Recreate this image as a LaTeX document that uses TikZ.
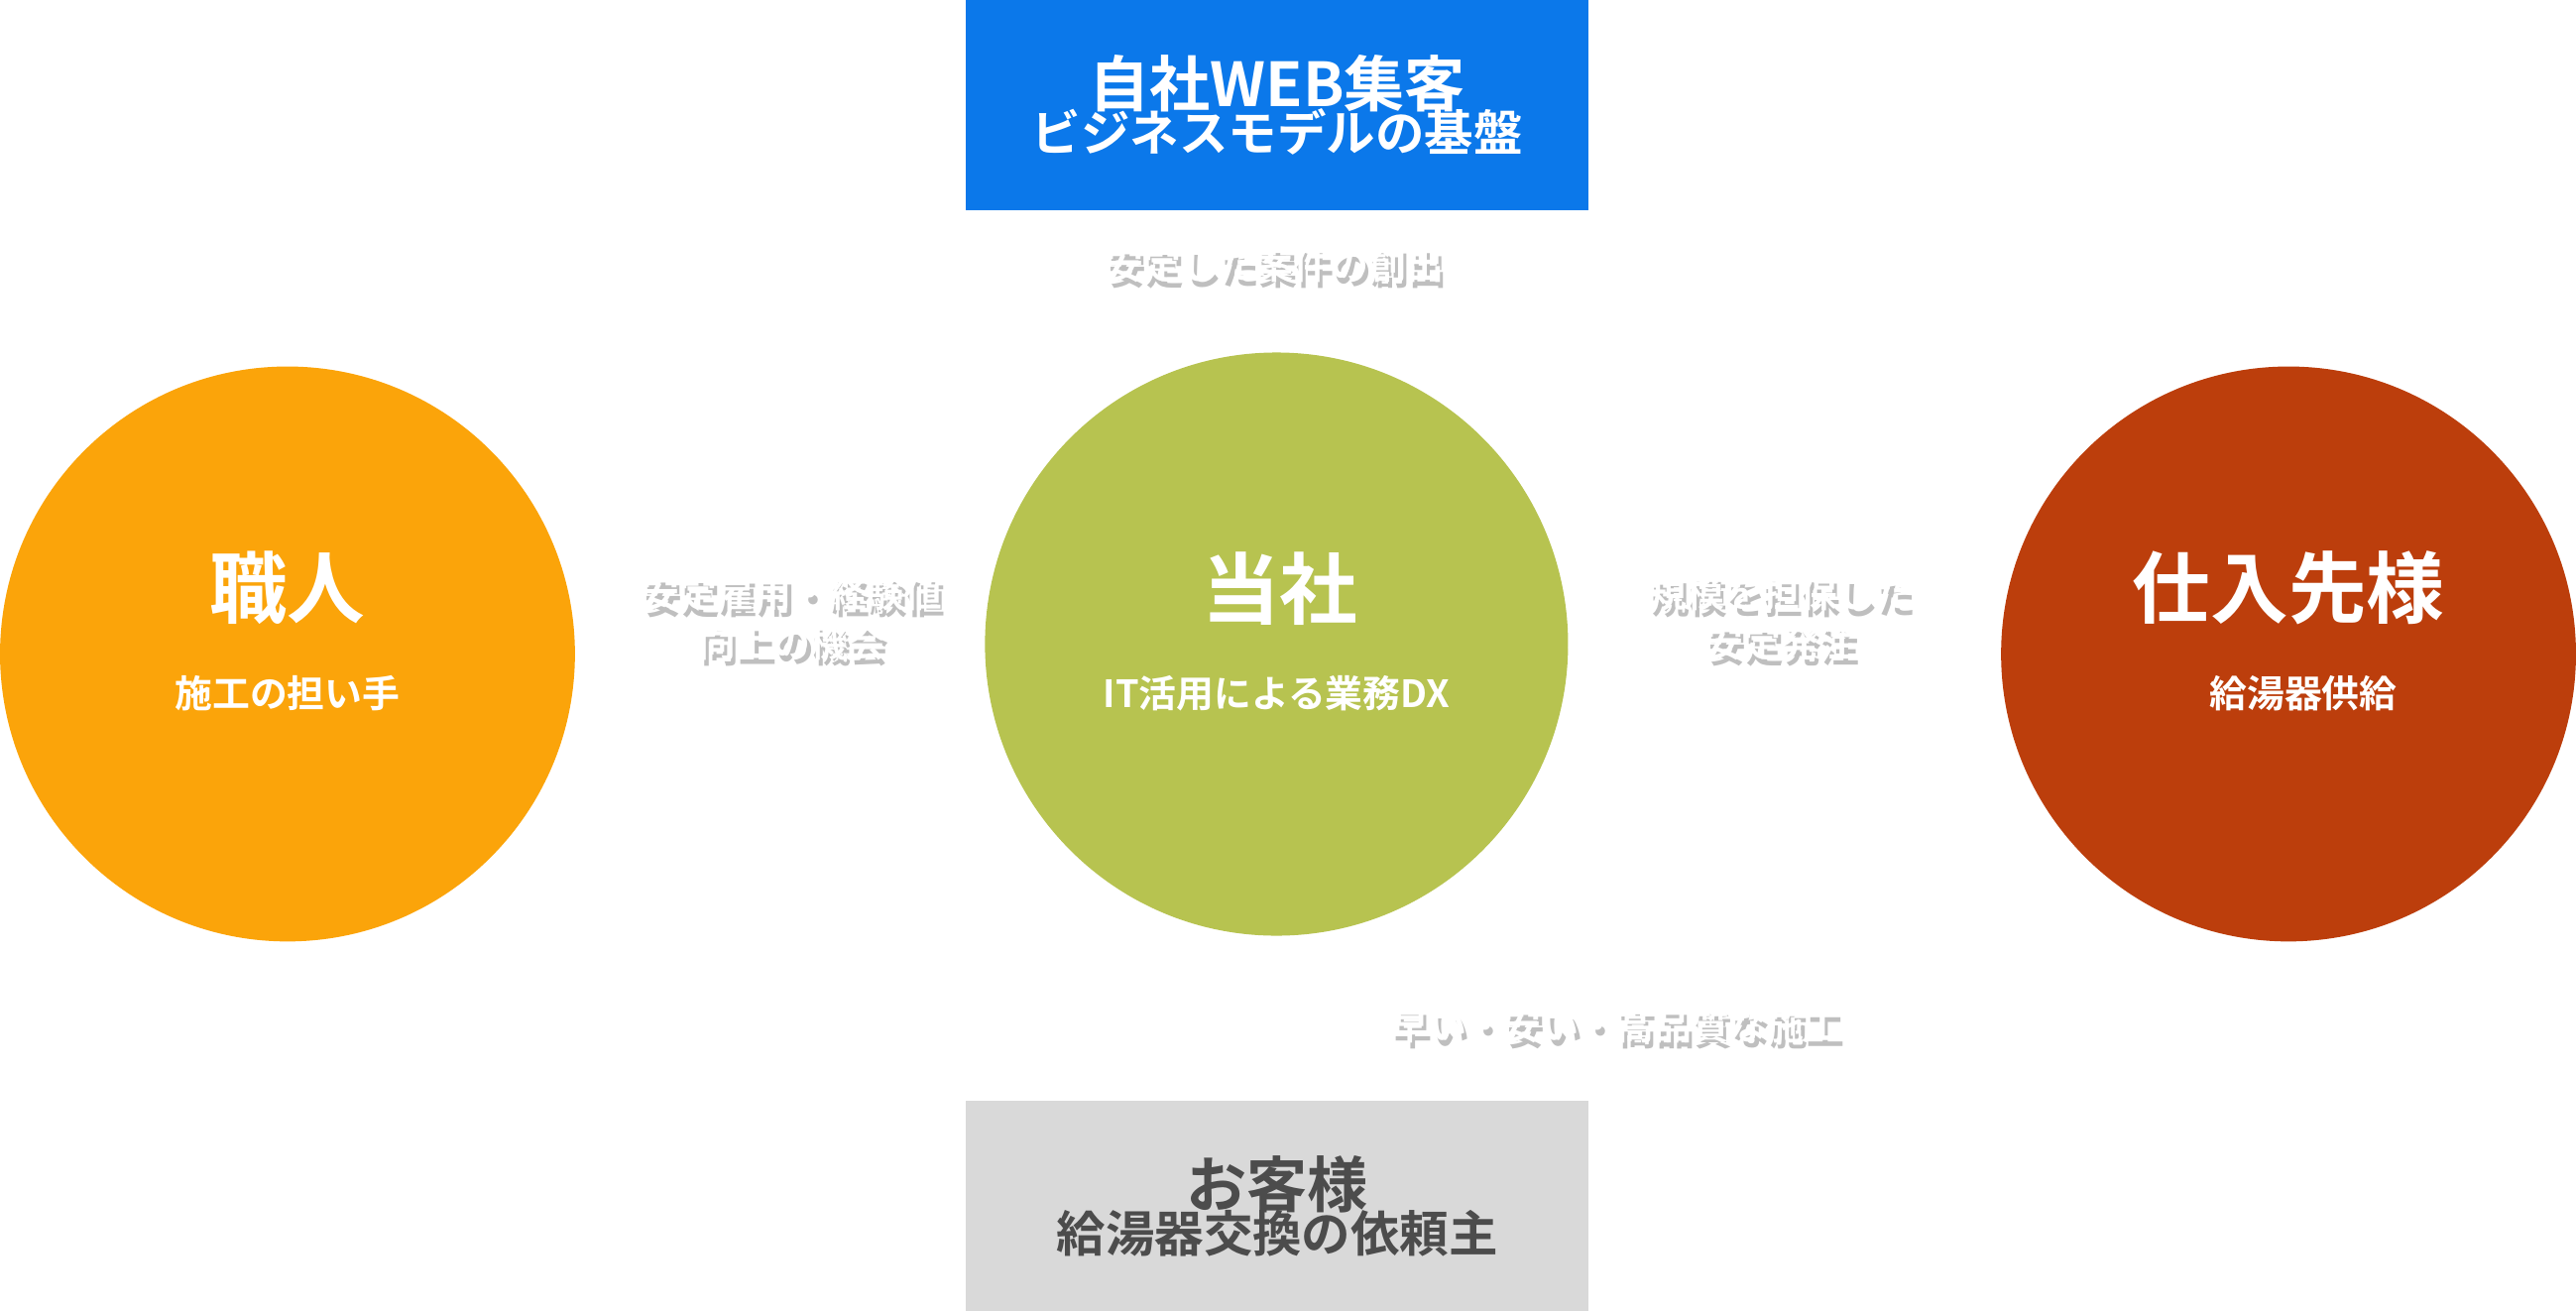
\documentclass[tikz,border=0pt]{standalone}
\usepackage{fontspec}
\setmainfont{Noto Sans CJK JP}[BoldFont={* Bold}]
\usetikzlibrary{arrows.meta, positioning, calc}
\definecolor{myblue}{HTML}{0B78EA}
\definecolor{myorange}{HTML}{FBA40A}
\definecolor{mygreen}{HTML}{B7C350}
\definecolor{myred}{HTML}{BC3E0C}
\definecolor{mygray}{HTML}{D9D9D9}

\begin{document}
\begin{tikzpicture}[x=0.02cm, y=-0.02cm,
    party/.style={circle, inner sep=0pt, minimum size=7cm},
    topbox/.style={minimum width=7.58cm, minimum height=2.56cm, inner sep=0pt, align=center, font=\bfseries},
    flowlabel/.style={text=white, font=\bfseries\fontsize{13}{17}\selectfont, align=center},
    flowshadow/.style={text=black!25, font=\bfseries\fontsize{13}{17}\selectfont, align=center}]
    \useasboundingbox (0,0) rectangle (1568,798);

    % Boxes
    \node[topbox, fill=myblue, text=white] (web) at (777.5,64)
        {{\fontsize{21}{26}\selectfont 自社WEB集客}\\[-2pt]{\fontsize{17}{22}\selectfont ビジネスモデルの基盤}};
    \node[topbox, fill=mygray, text=black!70] (client) at (777.5,734)
        {{\fontsize{21}{26}\selectfont お客様}\\[-2pt]{\fontsize{17}{22}\selectfont 給湯器交換の依頼主}};

    % Circles
    \node[party, fill=myorange, minimum size=7cm] (craft) at (175,398) {};
    \node[party, fill=mygreen, minimum size=7.1cm] (us) at (777,392) {};
    \node[party, fill=myred, minimum size=7cm] (supplier) at (1393,398) {};

    % Circle texts
    \node[text=white, font=\bfseries\fontsize{27}{30}\selectfont] at (175,358) {職人};
    \node[text=white, font=\bfseries\fontsize{13}{16}\selectfont] at (175,422) {施工の担い手};
    \node[text=white, font=\bfseries\fontsize{27}{30}\selectfont] at (779,358) {当社};
    \node[text=white, font=\bfseries\fontsize{13}{16}\selectfont] at (777,422) {IT活用による業務DX};
    \node[text=white, font=\bfseries\fontsize{27}{30}\selectfont] at (1393,358) {仕入先様};
    \node[text=white, font=\bfseries\fontsize{13}{16}\selectfont] at (1402,422) {給湯器供給};

    % Connectors (white)
    \draw[-{Triangle[width=10pt,length=8pt]}, white, line width=3pt] (us.west) -- (craft.east);
    \draw[-{Triangle[width=10pt,length=8pt]}, white, line width=3pt] (us.east) -- (supplier.west);

    % Flow labels
    \foreach \pos/\txt in {{776,161}/{安定した案件の創出}, {482,376}/{安定雇用・経験値\\向上の機会},
                           {1084,376}/{規模を担保した\\安定発注}, {984,624}/{早い・安い・高品質な施工}}{
        \node[flowshadow] at ($(\pos)+(2,4)$) {\txt};
        \node[flowlabel] at (\pos) {\txt};
    }
\end{tikzpicture}
\end{document}
